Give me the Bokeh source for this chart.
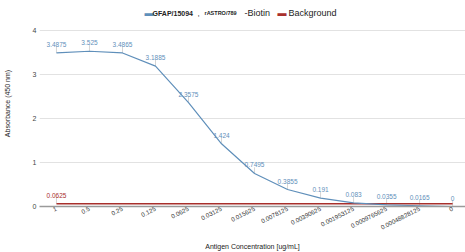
from bokeh.plotting import figure
from bokeh.models import Range1d, Label, FixedTicker, ColumnDataSource
from bokeh.core.properties import value
from bokeh.embed import file_html
from bokeh.resources import INLINE

categories = ["1", "0.5", "0.25", "0.125", "0.0625", "0.03125", "0.015625", "0.0078125",
              "0.00390625", "0.001953125", "0.0009765625", "0.00048828125", "0"]
gfap_values = [3.4875, 3.525, 3.4865, 3.1885, 2.3575, 1.424, 0.7495, 0.3855,
               0.191, 0.083, 0.0355, 0.0165, 0]
background_values = [0.0625] * 13
y_ticks = [0, 1, 2, 3, 4]

FONT = "Liberation Sans"
BLUE = "#5f8fba"
RED = "#a8302c"

xs = list(range(len(categories)))
Y_END = 4.678   # headroom above 4 holds the legend inside the plot frame

p = figure(width=465, height=252, output_backend="svg", toolbar_location=None,
           x_range=Range1d(-0.514, 12.39), y_range=Range1d(0, Y_END),
           min_border_left=38, min_border_right=0, min_border_top=0, min_border_bottom=45)
p.outline_line_color = None
p.xgrid.visible = False
p.ygrid.grid_line_color = "#e2e2e2"
p.ygrid.grid_line_width = 1

p.yaxis.ticker = FixedTicker(ticks=y_ticks)
p.yaxis.axis_line_color = None
p.yaxis.major_tick_line_color = None
p.yaxis.minor_tick_line_color = None
p.yaxis.major_tick_out = 0
p.yaxis.minor_tick_out = 0
p.yaxis.major_label_standoff = 3
p.yaxis.major_label_text_font = FONT
p.yaxis.major_label_text_font_size = "7px"
p.yaxis.major_label_text_color = "#444444"
p.yaxis.axis_label = "Absorbance (450 nm)"
p.yaxis.axis_label_text_font = FONT
p.yaxis.axis_label_text_font_size = "7px"
p.yaxis.axis_label_text_font_style = "normal"
p.yaxis.axis_label_text_color = "#222222"
p.yaxis.axis_label_text_align = "right"
p.yaxis.axis_label_standoff = 19

p.xaxis.ticker = FixedTicker(ticks=xs)
p.xaxis.major_label_overrides = {i: c for i, c in enumerate(categories)}
p.xaxis.major_label_orientation = 0.47
p.xaxis.axis_line_color = "#9a9a9a"
p.xaxis.axis_line_width = 1.5
p.xaxis.major_tick_line_color = None
p.xaxis.minor_tick_line_color = None
p.xaxis.major_tick_out = 0
p.xaxis.minor_tick_out = 0
p.xaxis.major_label_standoff = 2
p.xaxis.major_label_text_font = FONT
p.xaxis.major_label_text_font_size = "6.2px"
p.xaxis.major_label_text_color = "#333333"
p.xaxis.major_label_text_align = "right"
p.xaxis.axis_label = "Antigen Concentration [ug/mL]"
p.xaxis.axis_label_text_font = FONT
p.xaxis.axis_label_text_font_size = "7px"
p.xaxis.axis_label_text_font_style = "normal"
p.xaxis.axis_label_text_color = "#222222"
p.xaxis.axis_label_standoff = 8

src = ColumnDataSource(dict(x=xs, g=gfap_values, b=background_values,
                            gtop=[v + 0.14 for v in gfap_values],
                            glab=[f"{v:g}" for v in gfap_values]))

# leader lines
p.segment(x0="x", y0="g", x1="x", y1="gtop", source=src, line_color="#d5d5d5", line_width=1)
p.segment(x0=xs[:1], y0=background_values[:1], x1=xs[:1],
          y1=[background_values[0] + 0.14], line_color="#d5d5d5", line_width=1)

p.line(x="x", y="b", source=src, line_color=RED, line_width=1.6)
p.line(x="x", y="g", source=src, line_color=BLUE, line_width=1.2)

p.text(x="x", y="g", text="glab", source=src, text_align="center", text_baseline="bottom",
       y_offset=-6, text_font=value(FONT), text_font_size="6.5px", text_color=BLUE)
p.text(x=xs[:1], y=background_values[:1], text=[f"{background_values[0]:g}"],
       text_align="center", text_baseline="bottom", y_offset=-6,
       text_font=value(FONT), text_font_size="6.5px", text_color=RED)

# legend (manual, mixed fonts) at the top of the frame
LEG_Y = Y_END - 0.294
def lab(x, text, size, color="#222222", style="normal"):
    p.add_layout(Label(x=x, y=LEG_Y, x_units="screen", y_units="data", text=text,
                       text_font=FONT, text_font_size=size, text_color=color,
                       text_font_style=style, text_baseline="middle", text_align="left"))

lab(105, "\u25ac", "9px", BLUE)
lab(113, "GFAP/15094", "7px", "#222222", "bold")
lab(158, ",", "8px")
lab(165, "rASTRO/789", "5.5px", "#222222", "bold")
lab(205, "-Biotin", "9px")
lab(238, "\u25ac", "9px", RED)
lab(249, "Background", "9px")

open("out.html", "w").write(file_html(p, INLINE))
